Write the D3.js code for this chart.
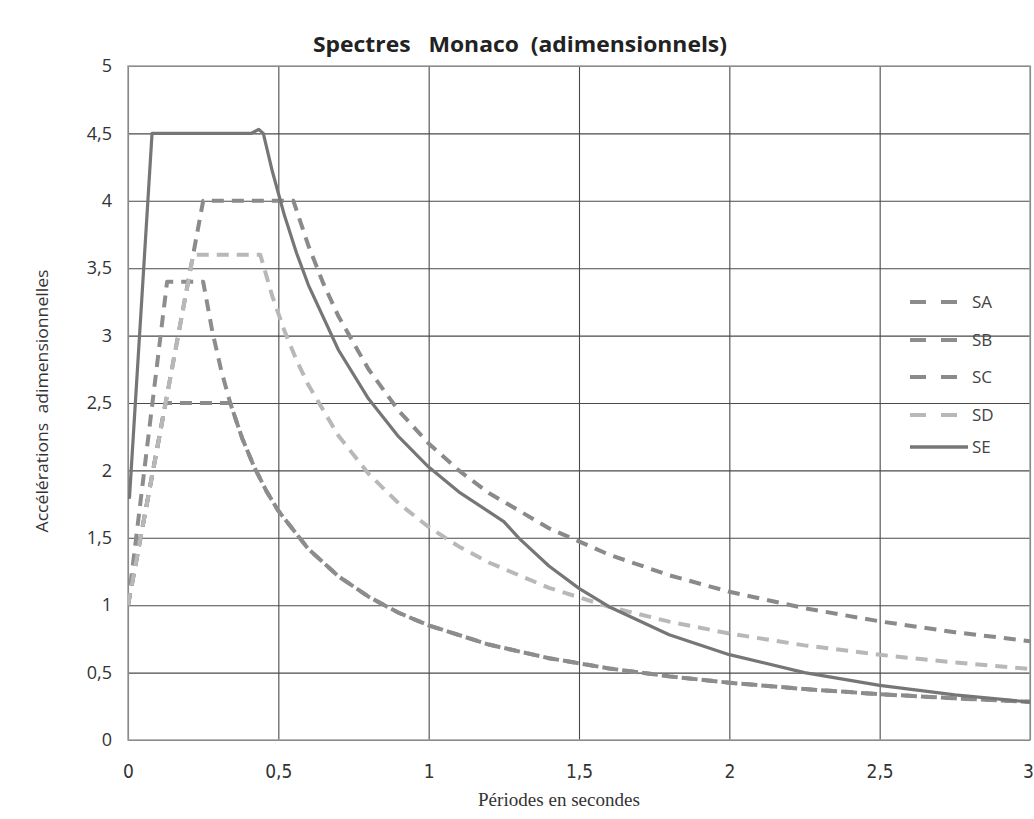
<!DOCTYPE html>
<html>
<head>
<meta charset="utf-8">
<script src="https://cdn.jsdelivr.net/npm/d3@7"></script>
<style>
  html, body { margin: 0; padding: 0; background: #fff; }
  svg { display: block; }
  text { white-space: pre; }
</style>
</head>
<body>
<svg id="chart" width="1034" height="819"></svg>
<script>
// ---- Data ----
const xTickValues = [0, 0.5, 1, 1.5, 2, 2.5, 3];
const xTickLabels = ["0", "0,5", "1", "1,5", "2", "2,5", "3"];
const yTickValues = [0, 0.5, 1, 1.5, 2, 2.5, 3, 3.5, 4, 4.5, 5];
const yTickLabels = ["0", "0,5", "1", "1,5", "2", "2,5", "3", "3,5", "4", "4,5", "5"];

const seriesNames = ["SA", "SB", "SC", "SD", "SE"];

const periodsSA = [0, 0.125, 0.34, 0.38, 0.42, 0.46, 0.5, 0.6, 0.7, 0.8, 0.9, 1.0, 1.2, 1.4, 1.6, 1.8, 2.0, 2.25, 2.5, 2.75, 3.0];
const valuesSA  = [1.0, 2.5, 2.5, 2.237, 2.024, 1.848, 1.7, 1.417, 1.214, 1.063, 0.944, 0.85, 0.708, 0.607, 0.531, 0.472, 0.425, 0.378, 0.34, 0.309, 0.283];

const periodsSB = [0, 0.13, 0.25, 0.28, 0.31, 0.34, 0.38, 0.42, 0.46, 0.5, 0.6, 0.7, 0.8, 0.9, 1.0, 1.2, 1.4, 1.6, 1.8, 2.0, 2.25, 2.5, 2.75, 3.0];
const valuesSB  = [1.0, 3.4, 3.4, 3.036, 2.742, 2.5, 2.237, 2.024, 1.848, 1.7, 1.417, 1.214, 1.063, 0.944, 0.85, 0.708, 0.607, 0.531, 0.472, 0.425, 0.378, 0.34, 0.309, 0.283];

const periodsSC = [0, 0.25, 0.55, 0.6, 0.65, 0.7, 0.8, 0.9, 1.0, 1.1, 1.2, 1.4, 1.6, 1.8, 2.0, 2.25, 2.5, 2.75, 3.0];
const valuesSC  = [1.0, 4.0, 4.0, 3.667, 3.385, 3.143, 2.75, 2.444, 2.2, 2.0, 1.833, 1.571, 1.375, 1.222, 1.1, 0.978, 0.88, 0.8, 0.733];

const periodsSD = [0, 0.217, 0.44, 0.48, 0.52, 0.56, 0.6, 0.7, 0.8, 0.9, 1.0, 1.1, 1.2, 1.4, 1.6, 1.8, 2.0, 2.25, 2.5, 2.75, 3.0];
const valuesSD  = [1.0, 3.6, 3.6, 3.292, 3.038, 2.821, 2.633, 2.257, 1.975, 1.756, 1.58, 1.436, 1.317, 1.129, 0.988, 0.878, 0.79, 0.702, 0.632, 0.575, 0.527];

const periodsSE = [0, 0.005, 0.08, 0.41, 0.435, 0.45, 0.48, 0.52, 0.56, 0.6, 0.7, 0.8, 0.9, 1.0, 1.1, 1.25, 1.3, 1.4, 1.5, 1.6, 1.8, 2.0, 2.25, 2.5, 2.75, 3.0];
const valuesSE  = [1.8, 1.8, 4.5, 4.5, 4.53, 4.5, 4.219, 3.894, 3.616, 3.375, 2.893, 2.531, 2.25, 2.025, 1.841, 1.62, 1.498, 1.291, 1.125, 0.989, 0.781, 0.633, 0.5, 0.405, 0.335, 0.281];

const seriesPeriods = [periodsSA, periodsSB, periodsSC, periodsSD, periodsSE];
const seriesValues  = [valuesSA, valuesSB, valuesSC, valuesSD, valuesSE];
const seriesColors  = ["#8b8b8b", "#8d8d8d", "#8a8a8a", "#b8b8b8", "#767676"];
const seriesDashed  = [true, true, true, true, false];

// ---- Layout ----
const svg = d3.select("#chart");
const pLeft = 128, pRight = 1030, pTop = 66, pBottom = 740;

const x = d3.scaleLinear().domain([0, 3]).range([pLeft, pRight]);
const y = d3.scaleLinear().domain([0, 5]).range([pBottom, pTop]);

svg.append("rect").attr("width", 1034).attr("height", 819).attr("fill", "#fff");

// Gridlines + y labels
const yAxis = d3.axisLeft(y)
  .tickValues(yTickValues)
  .tickFormat((d, i) => yTickLabels[i])
  .tickSizeInner(-(pRight - pLeft))
  .tickSizeOuter(0)
  .tickPadding(16);
const gy = svg.append("g").attr("transform", `translate(${pLeft},0)`).call(yAxis);
gy.select(".domain").remove();
gy.selectAll(".tick line").attr("stroke", "#4a4a4a").attr("stroke-width", 1.1);
gy.selectAll(".tick text")
  .attr("fill", "#333")
  .style("font-family", "'Open Sans', 'Noto Sans', sans-serif")
  .style("font-size", "18px");

const xAxis = d3.axisBottom(x)
  .tickValues(xTickValues)
  .tickFormat((d, i) => xTickLabels[i])
  .tickSizeInner(-(pBottom - pTop))
  .tickSizeOuter(0)
  .tickPadding(25);
const gx = svg.append("g").attr("transform", `translate(0,${pBottom})`).call(xAxis);
gx.select(".domain").remove();
gx.selectAll(".tick line").attr("stroke", "#4a4a4a").attr("stroke-width", 1.1);
gx.selectAll(".tick text")
  .attr("fill", "#333")
  .style("font-family", "'Liberation Sans Narrow', 'DejaVu Sans Condensed', sans-serif")
  .style("font-size", "19px")
  .attr("dx", (d, i) => i === xTickValues.length - 1 ? "-2" : "0");

// Plot border
svg.append("rect")
  .attr("x", pLeft).attr("y", pTop)
  .attr("width", pRight - pLeft).attr("height", pBottom - pTop)
  .attr("fill", "none").attr("stroke", "#a0a0a0").attr("stroke-width", 1.5);

// Series
const line = d3.line()
  .x(d => x(d[0]))
  .y(d => y(d[1]))
  .curve(d3.curveLinear);

svg.append("clipPath").attr("id", "plotclip")
  .append("rect").attr("x", pLeft).attr("y", pTop - 10).attr("width", pRight - pLeft + 2).attr("height", pBottom - pTop + 10);

const gLines = svg.append("g").attr("clip-path", "url(#plotclip)");
seriesNames.forEach((name, i) => {
  const pts = seriesPeriods[i].map((t, j) => [t, seriesValues[i][j]]);
  gLines.append("path")
    .datum(pts)
    .attr("d", line)
    .attr("fill", "none")
    .attr("stroke", seriesColors[i])
    .attr("stroke-width", seriesDashed[i] ? 4 : 3.2)
    .attr("stroke-dasharray", seriesDashed[i] ? "12,8" : null)
    .attr("stroke-linejoin", "round");
});

// Legend
const legendY = [302, 340, 377, 415, 447];
const lg = svg.append("g");
seriesNames.forEach((name, i) => {
  lg.append("line")
    .attr("x1", 910).attr("x2", seriesDashed[i] ? 957 : 968)
    .attr("y1", legendY[i]).attr("y2", legendY[i])
    .attr("stroke", seriesColors[i])
    .attr("stroke-width", seriesDashed[i] ? 4 : 3.5)
    .attr("stroke-dasharray", seriesDashed[i] ? "16,15" : null);
  lg.append("text")
    .attr("x", 972).attr("y", legendY[i])
    .attr("dy", "0.36em")
    .attr("fill", "#444")
    .style("font-family", "'Open Sans', 'Noto Sans', sans-serif")
    .style("font-size", "17px")
    .text(name);
});

// Title
svg.append("text")
  .attr("x", 520).attr("y", 52)
  .attr("text-anchor", "middle")
  .attr("fill", "#222")
  .attr("textLength", 414)
  .attr("lengthAdjust", "spacingAndGlyphs")
  .style("font-family", "'Open Sans', 'Noto Sans', sans-serif")
  .style("font-weight", "bold")
  .style("font-size", "21px")
  .text("Spectres   Monaco  (adimensionnels)");

// Axis titles
svg.append("text")
  .attr("transform", "translate(48,401) rotate(-90)")
  .attr("text-anchor", "middle")
  .attr("fill", "#333")
  .attr("textLength", 263)
  .attr("lengthAdjust", "spacingAndGlyphs")
  .style("font-family", "'Open Sans', 'Noto Sans', sans-serif")
  .style("font-size", "17px")
  .text("Accélérations  adimensionnelles");

svg.append("text")
  .attr("x", 559).attr("y", 806)
  .attr("text-anchor", "middle")
  .attr("fill", "#333")
  .attr("textLength", 162)
  .attr("lengthAdjust", "spacingAndGlyphs")
  .style("font-family", "'Liberation Serif', 'DejaVu Serif', serif")
  .style("font-size", "18px")
  .text("Périodes en secondes");
</script>
</body>
</html>
